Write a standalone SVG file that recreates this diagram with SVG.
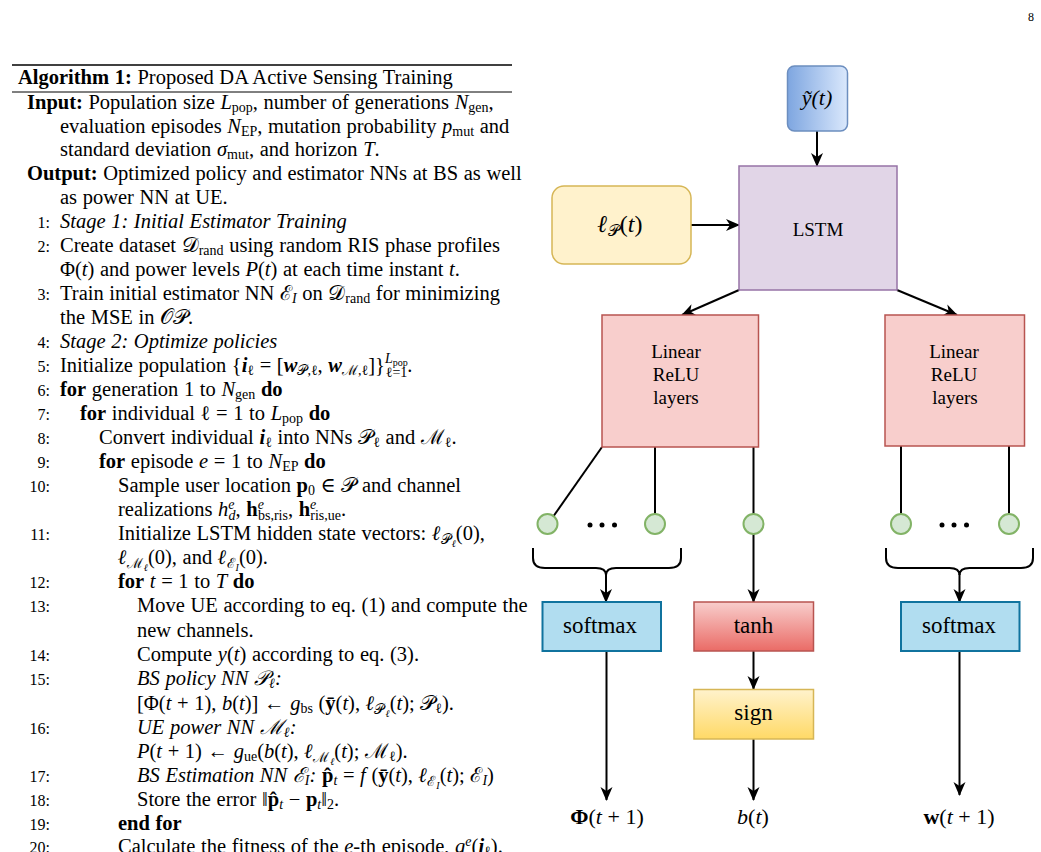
<svg xmlns="http://www.w3.org/2000/svg" width="1041" height="852" viewBox="0 0 1041 852">
<defs>
<style>
.t{font-family:"Liberation Serif","DejaVu Serif",serif;font-size:20.5px;word-spacing:0.5px;fill:#000}
.n{font-size:16px;word-spacing:0}
.i{font-style:italic}
.b{font-weight:bold}
.s{font-size:14px}
.ss{font-size:10px}
.lbl{font-family:"Liberation Serif","DejaVu Serif",serif;fill:#000;text-anchor:middle}
.cm{font-size:23px}
.tx{font-size:19px}
.circ{fill:#D5E8D4;stroke:#82B366;stroke-width:2}
.dot{fill:#000}
.conn line,.conn path{stroke:#000;stroke-width:2;fill:none}
</style>
<marker id="arr" viewBox="0 0 14 14" refX="13" refY="7" markerWidth="14" markerHeight="14" markerUnits="userSpaceOnUse" orient="auto">
<path d="M0,1 L14,7 L0,13 L4,7 z" fill="#000"/>
</marker>
<linearGradient id="gBlue" x1="0" y1="0" x2="1" y2="0">
<stop offset="0" stop-color="#7EA6E0"/><stop offset="1" stop-color="#DAE8FC"/>
</linearGradient>
<linearGradient id="gRed" x1="0" y1="0" x2="0" y2="1">
<stop offset="0" stop-color="#F8CECC"/><stop offset="1" stop-color="#EA6B66"/>
</linearGradient>
<linearGradient id="gYel" x1="0" y1="0" x2="0" y2="1">
<stop offset="0" stop-color="#FFF2CC"/><stop offset="1" stop-color="#FFD966"/>
</linearGradient>
</defs>
<rect width="1041" height="852" fill="#fff"/>

<text class="t" x="1031" y="21" text-anchor="middle" style="font-size:12px">8</text>

<g id="algorithm">
<line x1="12" y1="65" x2="512" y2="65" stroke="#000" stroke-width="1.5"/>
<line x1="12" y1="92" x2="512" y2="92" stroke="#000" stroke-width="1"/>
<text class="t" x="18" y="84"><tspan class="b">Algorithm 1:</tspan> Proposed DA Active Sensing Training</text>
<text class="t" x="27" y="109"><tspan class="b">Input:</tspan> Population size <tspan class="i">L</tspan><tspan class="s" dy="3">pop</tspan><tspan dy="-3">, number of generations </tspan><tspan class="i">N</tspan><tspan class="s" dy="3">gen</tspan><tspan dy="-3">,</tspan></text>
<text class="t" x="60" y="133">evaluation episodes <tspan class="i">N</tspan><tspan class="s" dy="3">EP</tspan><tspan dy="-3">, mutation probability </tspan><tspan class="i">p</tspan><tspan class="s" dy="3">mut</tspan><tspan dy="-3"> and</tspan></text>
<text class="t" x="60" y="156">standard deviation <tspan class="i">σ</tspan><tspan class="s" dy="3">mut</tspan><tspan dy="-3">, and horizon </tspan><tspan class="i">T</tspan>.</text>
<text class="t" x="27" y="180"><tspan class="b">Output:</tspan> Optimized policy and estimator NNs at BS as well</text>
<text class="t" x="60" y="204">as power NN at UE.</text>

<g text-anchor="end">
<text class="t n" x="50" y="228">1:</text>
<text class="t n" x="50" y="252">2:</text>
<text class="t n" x="50" y="300">3:</text>
<text class="t n" x="50" y="348">4:</text>
<text class="t n" x="50" y="372">5:</text>
<text class="t n" x="50" y="396">6:</text>
<text class="t n" x="50" y="420">7:</text>
<text class="t n" x="50" y="444">8:</text>
<text class="t n" x="50" y="468">9:</text>
<text class="t n" x="50" y="492">10:</text>
<text class="t n" x="50" y="540">11:</text>
<text class="t n" x="50" y="588">12:</text>
<text class="t n" x="50" y="612">13:</text>
<text class="t n" x="50" y="661">14:</text>
<text class="t n" x="50" y="685">15:</text>
<text class="t n" x="50" y="734">16:</text>
<text class="t n" x="50" y="782">17:</text>
<text class="t n" x="50" y="806">18:</text>
<text class="t n" x="50" y="830">19:</text>
<text class="t n" x="50" y="853">20:</text>
</g>

<text class="t i" x="60" y="228">Stage 1: Initial Estimator Training</text>
<text class="t" x="60" y="252">Create dataset 𝒟<tspan class="s" dy="3">rand</tspan><tspan dy="-3"> using random RIS phase profiles</tspan></text>
<text class="t" x="60" y="276">Φ(<tspan class="i">t</tspan>) and power levels <tspan class="i">P</tspan>(<tspan class="i">t</tspan>) at each time instant <tspan class="i">t</tspan>.</text>
<text class="t" x="60" y="300">Train initial estimator NN ℰ<tspan class="s i" dy="3">I</tspan><tspan dy="-3"> on 𝒟</tspan><tspan class="s" dy="3">rand</tspan><tspan dy="-3"> for minimizing</tspan></text>
<text class="t" x="60" y="324">the MSE in 𝒪𝒫.</text>
<text class="t i" x="60" y="348">Stage 2: Optimize policies</text>
<text class="t" x="60" y="372">Initialize population {<tspan class="b i">i</tspan><tspan class="s" dy="3">ℓ</tspan><tspan dy="-3"> = [</tspan><tspan class="b i">w</tspan><tspan class="s" dy="3">𝒫,ℓ</tspan><tspan dy="-3">, </tspan><tspan class="b i">w</tspan><tspan class="s" dy="3">ℳ,ℓ</tspan><tspan dy="-3">]}</tspan><tspan class="s i" dy="-9">L</tspan><tspan class="ss" dy="3">pop</tspan><tspan class="s" dx="-22" dy="11">ℓ=1</tspan><tspan dy="-5">.</tspan></text>
<text class="t" x="60" y="396"><tspan class="b">for</tspan> generation 1 to <tspan class="i">N</tspan><tspan class="s" dy="3">gen</tspan><tspan dy="-3"> </tspan><tspan class="b">do</tspan></text>
<text class="t" x="80" y="420"><tspan class="b">for</tspan> individual ℓ = 1 to <tspan class="i">L</tspan><tspan class="s" dy="3">pop</tspan><tspan dy="-3"> </tspan><tspan class="b">do</tspan></text>
<text class="t" x="99" y="444">Convert individual <tspan class="b i">i</tspan><tspan class="s" dy="3">ℓ</tspan><tspan dy="-3"> into NNs 𝒫</tspan><tspan class="s" dy="3">ℓ</tspan><tspan dy="-3"> and ℳ</tspan><tspan class="s" dy="3">ℓ</tspan><tspan dy="-3">.</tspan></text>
<text class="t" x="99" y="468"><tspan class="b">for</tspan> episode <tspan class="i">e</tspan> = 1 to <tspan class="i">N</tspan><tspan class="s" dy="3">EP</tspan><tspan dy="-3"> </tspan><tspan class="b">do</tspan></text>
<text class="t" x="118" y="492">Sample user location <tspan class="b">p</tspan><tspan class="s" dy="3">0</tspan><tspan dy="-3"> ∈ 𝒫 and channel</tspan></text>
<text class="t" x="118" y="516">realizations <tspan class="i">h</tspan><tspan class="s i" dy="-7">e</tspan><tspan class="s i" dx="-6" dy="11">d</tspan><tspan dy="-4">, </tspan><tspan class="b">h</tspan><tspan class="s i" dy="-7">e</tspan><tspan class="s" dx="-6" dy="11">bs,ris</tspan><tspan dy="-4">, </tspan><tspan class="b">h</tspan><tspan class="s i" dy="-7">e</tspan><tspan class="s" dx="-6" dy="11">ris,ue</tspan><tspan dy="-4">.</tspan></text>
<text class="t" x="118" y="540">Initialize LSTM hidden state vectors: <tspan class="b i">ℓ</tspan><tspan class="s" dy="4">𝒫</tspan><tspan class="ss i" dx="1" dy="3">ℓ</tspan><tspan dy="-7">(0),</tspan></text>
<text class="t" x="118" y="564"><tspan class="b i">ℓ</tspan><tspan class="s" dy="4">ℳ</tspan><tspan class="ss i" dx="1" dy="3">ℓ</tspan><tspan dy="-7">(0), and </tspan><tspan class="b i">ℓ</tspan><tspan class="s" dy="4">ℰ</tspan><tspan class="ss i" dx="1" dy="3">I</tspan><tspan dy="-7">(0).</tspan></text>
<text class="t" x="118" y="588"><tspan class="b">for</tspan> <tspan class="i">t</tspan> = 1 to <tspan class="i">T</tspan> <tspan class="b">do</tspan></text>
<text class="t" x="137" y="612">Move UE according to eq. (1) and compute the</text>
<text class="t" x="137" y="637">new channels.</text>
<text class="t" x="137" y="661">Compute <tspan class="i">y</tspan>(<tspan class="i">t</tspan>) according to eq. (3).</text>
<text class="t i" x="137" y="685">BS policy NN 𝒫<tspan class="s" dy="3">ℓ</tspan><tspan dy="-3">:</tspan></text>
<text class="t" x="137" y="710">[Φ(<tspan class="i">t</tspan> + 1), <tspan class="i">b</tspan>(<tspan class="i">t</tspan>)] ← <tspan class="i">g</tspan><tspan class="s" dy="3">bs</tspan><tspan dy="-3"> (</tspan><tspan class="b">ȳ</tspan>(<tspan class="i">t</tspan>), <tspan class="b i">ℓ</tspan><tspan class="s" dy="4">𝒫</tspan><tspan class="ss i" dx="1" dy="3">ℓ</tspan><tspan dy="-7">(</tspan><tspan class="i">t</tspan>); 𝒫<tspan class="s" dy="3">ℓ</tspan><tspan dy="-3">).</tspan></text>
<text class="t i" x="137" y="734">UE power NN ℳ<tspan class="s" dy="3">ℓ</tspan><tspan dy="-3">:</tspan></text>
<text class="t" x="137" y="758"><tspan class="i">P</tspan>(<tspan class="i">t</tspan> + 1) ← <tspan class="i">g</tspan><tspan class="s" dy="3">ue</tspan><tspan dy="-3">(</tspan><tspan class="i">b</tspan>(<tspan class="i">t</tspan>), <tspan class="b i">ℓ</tspan><tspan class="s" dy="4">ℳ</tspan><tspan class="ss i" dx="1" dy="3">ℓ</tspan><tspan dy="-7">(</tspan><tspan class="i">t</tspan>); ℳ<tspan class="s" dy="3">ℓ</tspan><tspan dy="-3">).</tspan></text>
<text class="t" x="137" y="782"><tspan class="i">BS Estimation NN ℰ</tspan><tspan class="s i" dy="3">I</tspan><tspan class="i" dy="-3">:</tspan> <tspan class="b">p̂</tspan><tspan class="s i" dy="3">t</tspan><tspan dy="-3"> = </tspan><tspan class="i">f</tspan> (<tspan class="b">ȳ</tspan>(<tspan class="i">t</tspan>), <tspan class="b i">ℓ</tspan><tspan class="s" dy="4">ℰ</tspan><tspan class="ss i" dx="1" dy="3">I</tspan><tspan dy="-7">(</tspan><tspan class="i">t</tspan>); ℰ<tspan class="s i" dy="3">I</tspan><tspan dy="-3">)</tspan></text>
<text class="t" x="137" y="806">Store the error ‖<tspan class="b">p̂</tspan><tspan class="s i" dy="3">t</tspan><tspan dy="-3"> − </tspan><tspan class="b">p</tspan><tspan class="s i" dy="3">t</tspan><tspan dy="-3">‖</tspan><tspan class="s" dy="3">2</tspan><tspan dy="-3">.</tspan></text>
<text class="t b" x="118" y="830">end for</text>
<text class="t" x="118" y="853">Calculate the fitness of the <tspan class="i">e</tspan>-th episode, <tspan class="i">g</tspan><tspan class="s i" dy="-7">e</tspan><tspan dy="7">(</tspan><tspan class="b i">i</tspan><tspan class="s" dy="3">ℓ</tspan><tspan dy="-3">).</tspan></text>
</g>

<g id="connectors" class="conn">
<line x1="817" y1="131" x2="817" y2="166" marker-end="url(#arr)"/>
<line x1="691" y1="225" x2="739" y2="225" marker-end="url(#arr)"/>
<line x1="739" y1="290" x2="682" y2="315" marker-end="url(#arr)"/>
<line x1="897" y1="290" x2="957" y2="315" marker-end="url(#arr)"/>
<line x1="602" y1="447" x2="548" y2="524"/>
<line x1="655" y1="447" x2="655" y2="524"/>
<line x1="753.5" y1="447" x2="753.5" y2="524"/>
<line x1="901" y1="446" x2="901" y2="524"/>
<line x1="1009" y1="446" x2="1009" y2="524"/>
<line x1="753.5" y1="534" x2="753.5" y2="602" marker-end="url(#arr)"/>
<path d="M533,548 L533,558 Q533,568 545,568 L596,568 Q606,568 606,575 Q606,568 616,568 L669,568 Q681,568 681,558 L681,548"/>
<path d="M886,548 L886,558 Q886,568 898,568 L949.5,568 Q959.5,568 959.5,575 Q959.5,568 969.5,568 L1021,568 Q1033,568 1033,558 L1033,548"/>
<line x1="606" y1="574" x2="606" y2="602" marker-end="url(#arr)"/>
<line x1="959.5" y1="574" x2="959.5" y2="602" marker-end="url(#arr)"/>
<line x1="606.5" y1="651" x2="606.5" y2="800" marker-end="url(#arr)"/>
<line x1="753.5" y1="651" x2="753.5" y2="689" marker-end="url(#arr)"/>
<line x1="753.5" y1="739" x2="753.5" y2="800" marker-end="url(#arr)"/>
<line x1="959.5" y1="651" x2="959.5" y2="795" marker-end="url(#arr)"/>
</g>

<g id="node-y">
<rect x="787.5" y="66" width="60" height="65" rx="7" fill="url(#gBlue)" stroke="#6C8EBF" stroke-width="1.5"/>
<text class="lbl i" x="817" y="105" style="font-size:22px">ỹ(t)</text>
</g>
<g id="node-lp">
<rect x="552" y="186" width="139" height="78" rx="12" fill="#FFF2CC" stroke="#D6B656" stroke-width="1.5"/>
<text class="lbl" x="620" y="232" style="font-size:24px"><tspan class="b i">ℓ</tspan><tspan style="font-size:16px" dy="4">𝒫</tspan><tspan dy="-4">(</tspan><tspan class="i">t</tspan>)</text>
</g>
<g id="node-lstm">
<rect x="739" y="166" width="158" height="124" fill="#E1D5E7" stroke="#9673A6" stroke-width="1.5"/>
<text class="lbl tx" x="818" y="236">LSTM</text>
</g>
<g id="node-lin1">
<rect x="602" y="315" width="156.5" height="132" fill="#F8CECC" stroke="#B85450" stroke-width="1.5"/>
<text class="lbl tx" x="676" y="358">Linear</text>
<text class="lbl tx" x="676" y="381">ReLU</text>
<text class="lbl tx" x="676" y="404">layers</text>
</g>
<g id="node-lin2">
<rect x="885" y="315" width="139.5" height="131" fill="#F8CECC" stroke="#B85450" stroke-width="1.5"/>
<text class="lbl tx" x="954" y="358">Linear</text>
<text class="lbl tx" x="954" y="381">ReLU</text>
<text class="lbl tx" x="955" y="404">layers</text>
</g>
<g id="node-outs">
<circle class="circ" cx="547.5" cy="524" r="10"/>
<circle class="circ" cx="655" cy="524" r="10"/>
<circle class="circ" cx="753.5" cy="524" r="10"/>
<circle class="circ" cx="901" cy="524" r="10"/>
<circle class="circ" cx="1009" cy="524" r="10"/>
<circle class="dot" cx="590" cy="525" r="2.5"/>
<circle class="dot" cx="602" cy="525" r="2.5"/>
<circle class="dot" cx="614.5" cy="525" r="2.5"/>
<circle class="dot" cx="942" cy="525" r="2.5"/>
<circle class="dot" cx="954" cy="525" r="2.5"/>
<circle class="dot" cx="966.5" cy="525" r="2.5"/>
</g>
<g id="node-softmax1">
<rect x="542.5" y="602" width="118.5" height="49" fill="#B1DDF0" stroke="#10739E" stroke-width="2"/>
<text class="lbl cm" x="600" y="633">softmax</text>
</g>
<g id="node-tanh">
<rect x="694" y="602" width="119.5" height="49" fill="url(#gRed)" stroke="#B85450" stroke-width="1.5"/>
<text class="lbl cm" x="753.5" y="633">tanh</text>
</g>
<g id="node-sign">
<rect x="694" y="689.5" width="119.5" height="49.5" fill="url(#gYel)" stroke="#D6B656" stroke-width="1.5"/>
<text class="lbl cm" x="753.5" y="720">sign</text>
</g>
<g id="node-softmax2">
<rect x="901" y="602" width="118.5" height="49" fill="#B1DDF0" stroke="#10739E" stroke-width="2"/>
<text class="lbl cm" x="959" y="633">softmax</text>
</g>
<g id="node-outputs">
<text class="lbl" x="607" y="824" style="font-size:22px"><tspan class="b">Φ</tspan>(<tspan class="i">t</tspan> + 1)</text>
<text class="lbl" x="753" y="824" style="font-size:22px"><tspan class="i">b</tspan>(<tspan class="i">t</tspan>)</text>
<text class="lbl" x="959" y="824" style="font-size:22px"><tspan class="b">w</tspan>(<tspan class="i">t</tspan> + 1)</text>
</g>
</svg>
